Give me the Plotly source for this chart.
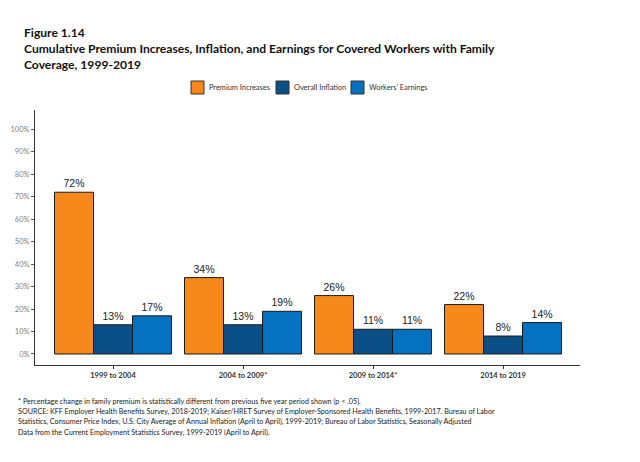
import plotly.graph_objects as go

periods = ["1999 to 2004", "2004 to 2009*", "2009 to 2014*", "2014 to 2019"]
premium = [72, 34, 26, 22]
inflation = [13, 13, 11, 8]
earnings = [17, 19, 11, 14]
y_ticks = [0, 10, 20, 30, 40, 50, 60, 70, 80, 90, 100]

series = [
    ("Premium Increases", premium, "#F7891B"),
    ("Overall Inflation", inflation, "#0A4F85"),
    ("Workers' Earnings", earnings, "#0571C1"),
]

title_lines = [
    "Figure 1.14",
    "Cumulative Premium Increases, Inflation, and Earnings for Covered Workers with Family",
    "Coverage, 1999-2019",
]
footnote_lines = [
    "* Percentage change in family premium is statistically different from previous five year period shown (p < .05).",
    "SOURCE: KFF Employer Health Benefits Survey, 2018-2019; Kaiser/HRET Survey of Employer-Sponsored Health Benefits, 1999-2017. Bureau of Labor",
    "Statistics, Consumer Price Index, U.S. City Average of Annual Inflation (April to April), 1999-2019; Bureau of Labor Statistics, Seasonally Adjusted",
    "Data from the Current Employment Statistics Survey, 1999-2019 (April to April).",
]

# the page body adds an 8px margin, so work in page pixels and shift
OFF = 8
FIG_W, FIG_H = 640 - OFF, 462 - OFF

# plot area in page pixels
L, R, T, B = 35, 580, 110, 365
W, H = R - L, B - T


def px(x):
    return (x - L) / W


def py(y):
    return (B - y) / H


fig = go.Figure()
for name, vals, color in series:
    fig.add_trace(go.Bar(
        x=periods,
        y=vals,
        name=name,
        marker=dict(color=color, line=dict(color="#1a1a1a", width=1)),
        text=[f"{v}%" for v in vals],
        textposition="outside",
        textfont=dict(family="Liberation Sans, Arial", size=10.5, color="#222"),
        cliponaxis=False,
    ))

fig.update_layout(
    width=FIG_W, height=FIG_H,
    paper_bgcolor="white", plot_bgcolor="white",
    barmode="group", bargap=0.1, bargroupgap=0,
    showlegend=False,
    margin=dict(l=L - OFF, r=640 - R, t=T - OFF, b=462 - B, autoexpand=False),
    font=dict(family="Lato, Open Sans, sans-serif", color="#222"),
    xaxis=dict(
        range=[-0.6, 3.592], showline=True, linecolor="#333", linewidth=1,
        ticks="outside", ticklen=3, tickcolor="#333", ticklabelstandoff=0,
        tickfont=dict(size=7.5, color="#333", weight="bold"), automargin=False,
    ),
    yaxis=dict(
        range=[-4.9, 108.6], tickvals=y_ticks, ticktext=[f"{v}%" for v in y_ticks],
        showline=True, linecolor="#333", linewidth=1, showgrid=False, zeroline=False,
        ticks="outside", ticklen=3, tickcolor="#555", automargin=False,
        tickfont=dict(size=7.5, color="#808080"),
    ),
)

# title
for i, line in enumerate(title_lines):
    fig.add_annotation(
        text=line, xref="paper", yref="paper", x=px(23), y=py(33 + 16 * i),
        xanchor="left", yanchor="middle", showarrow=False, borderpad=0,
        font=dict(size=12.1, color="#111", weight="bold"),
    )

# legend
box_x = [191, 276, 351]
for (name, vals, color), bx in zip(series, box_x):
    fig.add_shape(
        type="rect", xref="paper", yref="paper",
        x0=px(bx), x1=px(bx + 13), y0=py(94), y1=py(81),
        fillcolor=color, line=dict(color="#333", width=1),
    )
    fig.add_annotation(
        text=name, xref="paper", yref="paper", x=px(bx + 17), y=py(87.5),
        xanchor="left", yanchor="middle", showarrow=False, borderpad=0,
        font=dict(size=7.4, color="#333"),
    )

# footnote
for i, line in enumerate(footnote_lines):
    fig.add_annotation(
        text=line, xref="paper", yref="paper", x=px(17), y=py(401 + 10.4 * i),
        xanchor="left", yanchor="middle", showarrow=False, borderpad=0,
        font=dict(size=7.2, color="#222"),
    )

fig.write_html("out.html")
